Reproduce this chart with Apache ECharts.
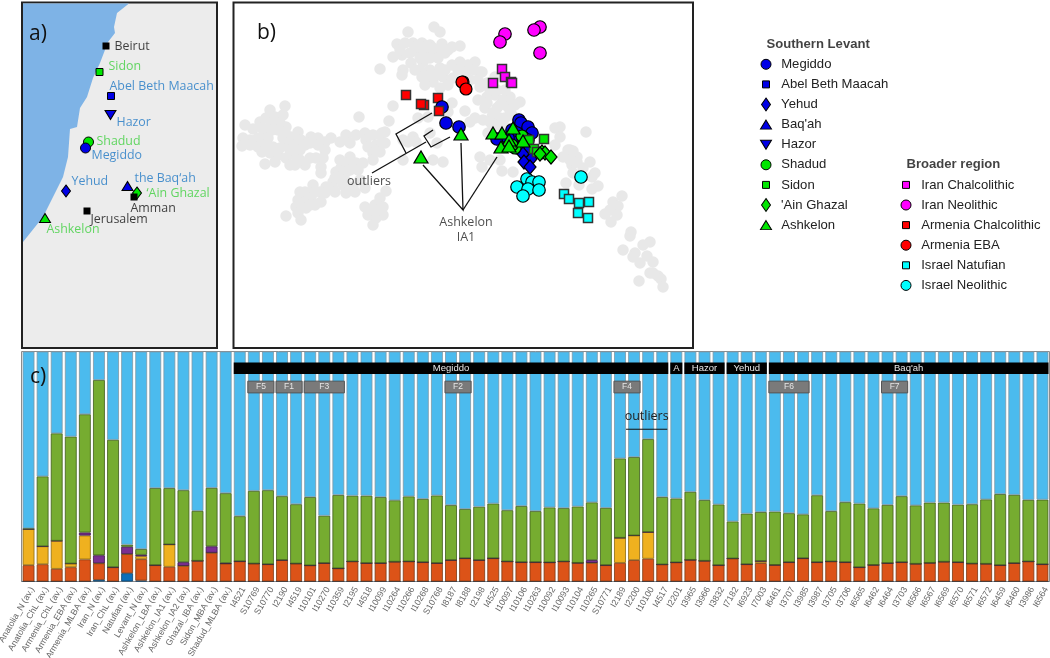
<!DOCTYPE html>
<html><head><meta charset="utf-8">
<style>html,body{margin:0;padding:0;background:#fff}#c{width:1050px;height:658px}</style>
<script src="https://cdn.jsdelivr.net/npm/echarts@6/dist/echarts.min.js"></script>
</head><body><div id="c"></div>
<script>
// ---------- panel c: ancestry components (percent) ----------
const categories = ["Anatolia_N (av.)","Anatolia_ChL (av.)","Armenia_ChL (av.)","Armenia_EBA (av.)","Armenia_MLBA (av.)","Iran_N (av.)","Iran_ChL (av.)","Natufian (av.)","Levant_N (av.)","Ashkelon_LBA (av.)","Ashkelon_IA1 (av.)","Ashkelon_IA2 (av.)","Ghazal_IBA (av.)","Sidon_MBA (av.)","Shadud_MLBA (av.)",
"I4521","S10769","S10770","I2190","I4519","I10101","I10270","I10359","I2195","I4518","I10099","I10264","I10266","I10268","S10768","I8187","I8188","I2198","I4525","I10097","I10106","I10263","I10092","I10093","I10104","I10265","S10771","I2189","I2200","I10100","I4517","I2201","I3965","I3966","I3832","I7182","I6923","I7003","I6461","I3707","I3985","I3987","I3705","I3706","I6565","I6462","I6464","I3703","I6566","I6567","I6569","I6570","I6571","I6572","I6459","I6460","I3986","I6564"];
const darkBlue = [0,0,0,0,0,.7,0,3.6,.4,0,0,0,0,0,0,0,0,0,0,0,0,0,0,0,0,0,0,0,0,0,0,0,0,0,0,0,0,0,0,0,0,0,0,0,0,0,0,0,0,0,0,0,0,0,0,0,0,0,0,0,0,0,0,0,0,0,0,0,0,0,0,0,0];
const orange = [7.1,7.5,5.5,6.2,9.6,7.2,6.2,8.3,9.3,7.1,6.4,6.8,9,12.5,7.8,8.8,7.8,7.5,9.3,7.8,7,8,5.7,8.7,8,8,8.6,8.7,8.4,8,9.3,10.1,9.3,10.1,8.7,8.4,8.4,8.3,8.7,8.1,8.1,7.1,8.1,9.3,9.9,7.4,8.3,9.4,9,7.1,10,7.5,8,7.2,8.4,10.1,8.4,8.7,8.4,6.2,7.2,8,8.4,7.7,8.1,8.6,8.4,7.8,7.7,7.1,8,8.7,7.5];
const yellow = [15.7,7.8,12.2,1.6,10.4,0,0,0,1.3,0,9.7,0,0,0,0,0,0,0,0,0,0,0,0,0,0,0,0,0,0,0,0,0,0,0,0,0,0,0,0,0,0,0,10.9,10.7,11.6,0,0,0,0,0,0,0,.9,0,0,0,0,0,0,0,0,0,0,0,0,0,0,0,0,0,0,0,0];
const purple = [0,0,0,0,1.3,3.5,0,3.2,.6,0,0,1.6,0,2.8,.2,0,0,0,0,0,0,0,0,0,0,0,0,0,0,0,0,0,0,0,0,0,0,0,0,0,1.2,0,0,0,0,0,0,0,0,0,0,0,0,0,0,0,0,0,0,0,0,0,0,0,0,0,0,0,0,0,0,0,0];
const green = [.3,30.4,46.7,55.2,51.4,76.2,55.4,.9,2.5,33.5,24.5,31.3,21.7,25.4,30.4,19.6,31.6,32.2,27.8,25.8,29.7,20.6,31.9,28.6,29.3,28.7,26.7,28.3,27.5,29.4,23.9,21.4,23.2,23.8,22.3,24.4,22.2,23.9,23.2,24.5,25.1,24.9,34.5,34.1,40.4,29.3,27.8,29.6,26.4,26.4,16.1,22,21.3,23.2,21.3,19.1,29.1,21.9,26.1,27.7,24.6,25.3,28.7,25.4,26.2,25.7,25,25.8,28,30.9,29.7,26.8,28.1];
const lightBlue = [76.9,54.3,35.6,37,27.3,12.4,38.4,84,85.9,59.4,59.4,60.3,69.3,59.3,61.6,71.6,60.6,60.3,62.9,66.4,63.3,71.4,62.4,62.7,62.7,63.3,64.7,63,64.1,62.6,66.8,68.5,67.5,66.1,69,67.2,69.4,67.8,68.1,67.4,65.6,68,46.5,45.9,38.1,63.3,63.9,61,64.6,66.5,73.9,70.5,69.8,69.6,70.3,70.8,62.5,69.4,65.5,66.1,68.2,66.7,62.9,66.9,65.7,65.7,66.6,66.4,64.3,62,62.3,64.5,64.4];
const siteBars = [["Megiddo","I4521","I4517"],["A","I2201","I2201"],["Hazor","I3965","I3832"],["Yehud","I7182","I7003"],["Baq'ah","I6461","I6564"]];
const familyBars = [["F5","S10769","S10770"],["F1","I2190","I4519"],["F3","I10101","I10359"],["F2","I8187","I8188"],["F4","I2189","I2200"],["F6","I6461","I3985"],["F7","I6464","I3703"]];
const outlierBars = ["I2200","I4517"];
// ---------- panel b: PCA points ----------
const grayCloud = [[285,106],[270,110],[245,125],[253,129],[260,122],[266,118],[275,117],[283,115],[271,123],[280,123],[286,127],[278,130],[265,132],[243,138],[242,146],[250,140],[258,138],[258,147],[250,145],[268,138],[273,147],[270,153],[278,155],[286,158],[265,164],[295,165],[296,157],[288,145],[283,138],[291,137],[298,132],[301,140],[295,145],[305,145],[311,137],[318,138],[325,142],[331,138],[318,145],[325,150],[340,142],[346,135],[350,143],[310,158],[305,165],[316,158],[323,158],[321,167],[321,173],[356,135],[365,133],[373,135],[380,135],[385,132],[366,140],[368,147],[376,145],[383,143],[373,153],[378,150],[373,160],[359,117],[389,121],[393,106],[350,157],[348,163],[356,163],[363,163],[341,168],[336,172],[346,172],[340,177],[333,182],[326,187],[333,188],[343,185],[353,187],[365,188],[346,193],[355,192],[386,191],[313,185],[305,192],[313,193],[320,192],[321,202],[311,198],[305,202],[298,200],[296,207],[306,208],[298,213],[301,220],[286,216],[365,207],[380,198],[375,205],[383,207],[376,212],[383,215],[368,215],[376,218],[373,225],
[434,27],[440,32],[408,32],[397,44],[405,43],[413,43],[422,43],[430,45],[442,44],[452,47],[460,46],[393,57],[402,55],[410,53],[418,52],[427,52],[437,52],[445,53],[411,63],[403,70],[402,75],[380,69],[423,62],[420,70],[422,77],[440,68],[430,70],[425,85],[433,82],[443,77],[452,65],[460,62],[468,65],[475,62],[453,78],[482,72],[480,87],[487,83],[495,77],[487,97],[495,95],[503,100],[485,108],[497,108],[508,107],[492,117],[500,118],[512,115],[483,120],[465,111],[448,112],[418,118],[428,117],[452,103],[493,127],[488,133],[382,133],[385,143],[380,152],[505,127],[408,142],[403,140],[413,137],[416,142],[430,133],[437,143],[443,162],[433,160],[403,160],
[480,72],[483,85],[497,90],[510,97],[520,102],[487,103],[500,105],[510,110],[493,113],[560,127],[555,128],[586,132],[560,137],[555,145],[570,150],[563,157],[577,157],[590,162],[572,165],[583,168],[595,173],[480,157],[490,160],[500,160],[502,171],[513,172],[482,167],[568,150],[573,151],[570,160],[577,162],[573,173],[592,177],[566,183],[579,185],[598,186],[592,189],[622,196],[613,202],[618,206],[610,210],[605,214],[617,215],[611,222],[631,232],[630,236],[650,242],[643,245],[623,250],[635,253],[633,257],[647,256],[640,263],[653,262],[650,273],[653,273],[658,276],[661,279],[639,281],[663,287],
[400,50],[415,47],[425,47],[433,48],[448,50],[420,58],[430,58],[438,58],[415,70],[428,76],[436,75],[445,70],[458,70],[466,72],[474,70],[440,88],[448,85],[470,80],[478,80],[490,90],[505,90],[515,105],[478,100],[490,122],[475,118],[470,122],[498,125],[505,118],[262,128],[272,130],[285,132],[290,150],[280,148],[265,145],[262,152],[300,150],[310,143],[300,160],[290,165],[275,162],[340,160],[350,170],[358,170],[335,178],[345,180],[325,193],[335,192],[360,180],[310,205],[300,192],[315,205],[370,210],[378,210]];
const iranNeolithic = [[505,34],[500,42],[540,27],[534,30],[540,53]];
const iranChalcolithic = [[502,69],[505,77],[511,82],[512,83],[493,83]];
const armeniaEBA = [[463,82],[462,82],[466,89]];
const armeniaChalcolithic = [[406,95],[424,105],[421,104],[438,98]];
const armeniaChalcolithicTop = [[439,111]];
const megiddo = [[442,107],[446,123],[459,127],[519,120],[521,123],[528,127],[532,133],[512,130],[517,133],[497,139],[523,137],[528,140],[520,143],[513,142],[508,138],[525,150],[518,148]];
const baqah = [[510,135],[524,147]];
const hazor = [[516,140]];
const abelBethMaacah = [[518,142]];
const yehud = [[523,154],[531,159],[524,162],[530,167]];
const shadud = [[522,136],[515,148],[512,145]];
const sidon = [[544,139],[529,140],[534,149],[537,152]];
const ainGhazal = [[542,152],[545,153],[540,154],[551,157]];
const ashkelon = [[493,133],[502,133],[513,128],[509,140],[501,147],[509,146],[523,141],[461,134],[421,157]];
const israelNeolithic = [[527,179],[532,182],[539,182],[517,187],[528,189],[539,190],[523,196],[581,177]];
const israelNatufian = [[564,194],[569,199],[579,203],[589,202],[578,213],[588,218]];
const leaderLines = [[[432,113],[396,134],[406,153]],[[372,173],[426,142]],[[433,130],[424,136],[431,147],[450,137]],[[423,165],[463,210],[461,143]],[[463,210],[497,157]]];
const panelBNotes = [["outliers",369,181],["Ashkelon",466,222],["IA1",466,237]];
// ---------- panel a: map ----------
const coastline = [[23,3.5],[129,3.5],[117,13],[114,27],[115,33],[108,42],[100,63],[93,78],[87,97],[80,108],[77,127],[70,129],[68,157],[63,177],[55,193],[43,217],[23,242]];
const mapSites = [
 ["Beirut",106,46,"rect","k",114,46],["Sidon",99.5,72,"rect","g",108,66],["Abel Beth Maacah",111,96,"rect","b",109,86],
 ["Hazor",110.5,115,"down","b",116,122],["Shadud",88.5,142,"circle","g",96,141],["Megiddo",85.5,148,"circle","b",91,155],
 ["Yehud",66,191,"diamond","b",71,181],["the Baq‘ah",127.5,186,"tri","b",134,178],["‘Ain Ghazal",137,193,"diamond","g",146,193],
 ["Amman",134,197,"rect","k",130,208],["Jerusalem",87,211,"rect","k",90,219],["Ashkelon",45,218,"tri","g",46,229]];
// ---------- legends ----------
const legendSouth = [["Megiddo","circle","#0000e6"],["Abel Beth Maacah","rect","#0000e6"],["Yehud","diamond","#0000e6"],["Baq'ah","tri","#0000e6"],["Hazor","down","#0000e6"],["Shadud","circle","#00e600"],["Sidon","rect","#00e600"],["'Ain Ghazal","diamond","#00e600"],["Ashkelon","tri","#00e600"]];
const legendBroader = [["Iran Chalcolithic","rect","#ff00ff"],["Iran Neolithic","circle","#ff00ff"],["Armenia Chalcolithic","rect","#ff0000"],["Armenia EBA","circle","#ff0000"],["Israel Natufian","rect","#00ffff"],["Israel Neolithic","circle","#00ffff"]];

const sym = {circle:'circle',rect:'rect',diamond:'diamond',tri:'triangle',down:'triangle'};
const legendSize = {circle:10,rect:7,diamond:[9,13],tri:[11,9],down:[11,9]};
const legendHalf = {circle:5,rect:3.5,diamond:4.5,tri:5.5,down:5.5};
const BLUE='#0000e6',GREEN='#00e600';
const mapText = {k:'#111',g:'#3fd03f',b:'#1f78c4'};
const mapFill = {k:'#000',g:GREEN,b:BLUE};
const mapSize = {circle:10,rect:7,diamond:[9,12],tri:[11,9],down:[11,9]};

function scatterB(name,pts,symbol,color,size,extra){
  return Object.assign({name,type:'scatter',xAxisIndex:1,yAxisIndex:1,symbol,symbolSize:size,data:pts,
    itemStyle:{color,borderColor:symbol==='rect'?'#333':'#000',borderWidth:symbol==='rect'?1.5:1.2,opacity:1},silent:true},extra||{});
}
function catIndex(n){return categories.indexOf(n);}
function spanSeries(name,spans,vTop,vBot,fill,border,font,textColor){
  return {name,type:'custom',xAxisIndex:2,yAxisIndex:2,z:5,silent:true,data:spans.map(function(s,i){return [catIndex(s[1]),vTop];}),
    encode:{x:0,y:1},clip:false,
    renderItem:function(p,api){
      const s=spans[p.dataIndex];
      const a=catIndex(s[1]),b=catIndex(s[2]);
      const band=api.size([1,0])[0];
      const x0=api.coord([a,vTop])[0]-band/2+1, x1=api.coord([b,vTop])[0]+band/2-1;
      const y0=api.coord([a,vTop])[1], y1=api.coord([a,vBot])[1];
      return {type:'group',children:[
        {type:'rect',shape:{x:x0,y:y0,width:x1-x0,height:y1-y0},style:{fill,stroke:border,lineWidth:border==='none'?0:1}},
        {type:'text',style:{text:s[0],x:(x0+x1)/2,y:(y0+y1)/2,align:'center',verticalAlign:'middle',fill:textColor,font:font}}
      ]};
    }};
}
const barColors=[['darkBlue',darkBlue,'#0d6fb8','#0b3f66'],['orange',orange,'#dc5318','#7a3a14'],['yellow',yellow,'#efb11f','#8a6a10'],['purple',purple,'#7a2f91','#3a1746'],['green',green,'#76ac30','#3f5c1a'],['lightBlue',lightBlue,'#4bbbee','#7f98a6']];

const series=[];
// map
series.push({name:'sea',type:'custom',xAxisIndex:0,yAxisIndex:0,silent:true,clip:true,data:coastline,encode:{x:0,y:1},
  renderItem:function(p,api){ if(p.dataIndex!==0) return null;
    return {type:'polygon',shape:{points:coastline.map(function(c){return api.coord(c);})},style:{fill:'#7eb3e6'}};}});
series.push({name:'sites',type:'scatter',xAxisIndex:0,yAxisIndex:0,silent:true,z:3,
  data:mapSites.map(function(s){return {value:[s[1],s[2]],symbol:sym[s[3]],symbolSize:mapSize[s[3]],symbolRotate:s[3]==='down'?180:0,itemStyle:{color:mapFill[s[4]],borderColor:'#000',borderWidth:s[4]==='k'?0:1,opacity:1}};})});
series.push({name:'siteLabels',type:'scatter',xAxisIndex:0,yAxisIndex:0,silent:true,z:4,symbolSize:1,itemStyle:{color:'rgba(0,0,0,0)'},
  data:mapSites.map(function(s){return {value:[s[5],s[6]],label:{show:true,position:'right',distance:0,formatter:s[0],color:mapText[s[4]],fontFamily:'Open Sans',fontSize:12.4}};})});
// PCA
series.push(scatterB('gray',grayCloud,'circle','#e8e8e8',11.5,{z:1,itemStyle:{color:'#e8e8e8',opacity:1,borderWidth:0}}));
series.push(scatterB('Iran Neolithic',iranNeolithic,'circle','#ff00ff',12.5,{z:2}));
series.push(scatterB('Iran Chalcolithic',iranChalcolithic,'rect','#ff00ff',9,{z:2}));
series.push(scatterB('Armenia EBA',armeniaEBA,'circle','#ff0000',12,{z:2}));
series.push(scatterB('Armenia Chalcolithic',armeniaChalcolithic,'rect','#ff0000',9,{z:2}));
series.push(scatterB('Israel Neolithic',israelNeolithic,'circle','#00ffff',12.5,{z:2}));
series.push(scatterB('Israel Natufian',israelNatufian,'rect','#00ffff',9,{z:2}));
series.push(scatterB('Baq\'ah',baqah,'triangle',BLUE,12,{z:2}));
series.push(scatterB('Hazor',hazor,'triangle',BLUE,12,{z:2,symbolRotate:180}));
series.push(scatterB('Abel Beth Maacah',abelBethMaacah,'rect',BLUE,9,{z:2}));
series.push(scatterB('Megiddo',megiddo,'circle',BLUE,12.5,{z:3}));
series.push(scatterB('Armenia Chalcolithic top',armeniaChalcolithicTop,'rect','#ff0000',9,{z:4}));
series.push(scatterB('Yehud',yehud,'diamond',BLUE,[12,14],{z:4}));
series.push(scatterB('Shadud',shadud,'circle',GREEN,12,{z:4}));
series.push(scatterB('Sidon',sidon,'rect',GREEN,9,{z:4}));
series.push(scatterB('Ain Ghazal',ainGhazal,'diamond',GREEN,[12,14],{z:4}));
series.push(scatterB('Ashkelon',ashkelon,'triangle',GREEN,[14,12],{z:5}));
series.push({name:'leaders',type:'custom',xAxisIndex:1,yAxisIndex:1,silent:true,z:6,data:leaderLines.map(function(l){return l[0];}),encode:{x:0,y:1},
  renderItem:function(p,api){return {type:'polyline',shape:{points:leaderLines[p.dataIndex].map(function(c){return api.coord(c);})},style:{stroke:'#111',lineWidth:1.3,fill:'none'}};}});
series.push({name:'notes',type:'scatter',xAxisIndex:1,yAxisIndex:1,silent:true,z:6,symbolSize:1,itemStyle:{color:'rgba(0,0,0,0)'},
  data:panelBNotes.map(function(n){return {value:[n[1],n[2]],label:{show:true,position:'inside',formatter:n[0],color:'#222',fontFamily:'Open Sans',fontSize:12.5}};})});
// bars
barColors.forEach(function(b){
  series.push({name:b[0],type:'bar',stack:'all',xAxisIndex:2,yAxisIndex:2,data:b[1],barWidth:11.8,silent:true,
    itemStyle:{color:b[2],borderColor:b[3],borderWidth:0.8}});
});
series.push(spanSeries('sites',siteBars,95.2,90.2,'#000','none','9.5px "Liberation Sans"','#e8e8e8'));
series.push(spanSeries('families',familyBars,87.1,82,'#7a7a7a','#555','8.5px "Liberation Sans"','#e6e6e6'));
const outlierLevel=66.2;
series.push({name:'outlierNote',type:'custom',xAxisIndex:2,yAxisIndex:2,z:6,silent:true,clip:false,data:[[catIndex(outlierBars[0]),outlierLevel]],encode:{x:0,y:1},
  renderItem:function(p,api){
    const band=api.size([1,0])[0];
    const l=api.coord([catIndex(outlierBars[0]),outlierLevel]),r=api.coord([catIndex(outlierBars[1]),outlierLevel]);
    const x0=l[0]-band/2-1,x1=r[0]+band/2-2;
    return {type:'group',children:[
      {type:'line',shape:{x1:x0,y1:l[1],x2:x1,y2:l[1]},style:{stroke:'#111',lineWidth:1}},
      {type:'text',style:{text:'outliers',x:(x0+x1)/2,y:l[1]-12.5,align:'center',verticalAlign:'middle',fill:'#222',font:'12.5px "Open Sans"'}}]};
  }});
// legends
function legendData(items,col,startRow){return items.map(function(it,i){
  return {value:[col,startRow+i],symbol:sym[it[1]],symbolSize:legendSize[it[1]],symbolRotate:it[1]==='down'?180:0,
    itemStyle:{color:it[2],borderColor:'#000',borderWidth:1,opacity:1},
    label:{show:true,position:'right',distance:14.7-legendHalf[it[1]],formatter:it[0],color:'#222',fontFamily:'Liberation Sans',fontSize:13.1}};
});}
series.push({name:'legend',type:'scatter',xAxisIndex:3,yAxisIndex:3,silent:true,clip:false,
  data:legendData(legendSouth,0,0).concat(legendData(legendBroader,1,6))});
series.push({name:'legendTitles',type:'scatter',xAxisIndex:3,yAxisIndex:3,silent:true,clip:false,symbolSize:1,itemStyle:{color:'rgba(0,0,0,0)'},
  data:[[0,-1,'Southern Levant'],[1,5,'Broader region']].map(function(t){return {value:[t[0],t[1]],label:{show:true,position:'right',distance:0,formatter:t[2],color:'#111',fontWeight:'bold',fontFamily:'Liberation Sans',fontSize:13.1}};})});

const hiddenVal=function(gi,min,max,inv){return {type:'value',gridIndex:gi,min,max,inverse:!!inv,show:false};};
const option={animation:false,backgroundColor:'#fff',
 grid:[
  {left:22,top:2.5,width:195,height:345.5,show:true,backgroundColor:'#ececec',borderColor:'#222',borderWidth:2,outerBoundsMode:'none'},
  {left:233.5,top:2.5,width:459.5,height:345.5,show:true,backgroundColor:'#fff',borderColor:'#222',borderWidth:2,outerBoundsMode:'none'},
  {left:21.5,top:351.5,width:1028,height:230,show:true,backgroundColor:'#fff',borderColor:'#8c8c8c',borderWidth:1,outerBoundsMode:'none'},
  {left:766,top:44.2,width:140,height:241.2,outerBoundsMode:'none'}
 ],
 xAxis:[hiddenVal(0,22,217),hiddenVal(1,233.5,693),
  {type:'category',gridIndex:2,data:categories,axisTick:{show:false},axisLine:{show:true,lineStyle:{color:'#8c8c8c'}},
   axisLabel:{interval:0,rotate:60,color:'#666',fontFamily:'Liberation Sans',fontSize:8.8,margin:4,align:'right',verticalAlign:'top'}},
  hiddenVal(3,0,1)],
 yAxis:[hiddenVal(0,2.5,348,true),hiddenVal(1,2.5,348,true),
  {type:'value',gridIndex:2,min:0,max:100,show:false},
  hiddenVal(3,-1,11,true)],
 graphic:[
  {type:'text',left:29,top:24,z:100,style:{text:'a)',font:'21px "Open Sans"',fill:'#111'}},
  {type:'text',left:257,top:23,z:100,style:{text:'b)',font:'21px "Open Sans"',fill:'#111'}},
  {type:'text',left:30,top:367,z:100,style:{text:'c)',font:'21px "Open Sans"',fill:'#111'}}
 ],
 series};
echarts.init(document.getElementById('c'),null,{renderer:'canvas'}).setOption(option);
</script></body></html>
